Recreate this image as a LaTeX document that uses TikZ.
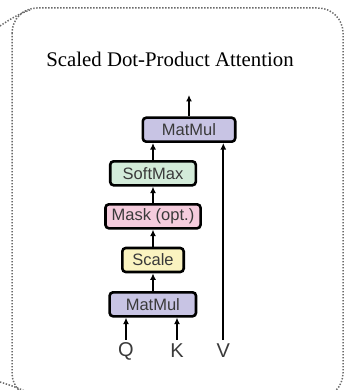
\documentclass[tikz,border=0pt]{standalone}
\usepackage{fontspec}
\setmainfont{Liberation Serif}
\newfontfamily\labelfont{Liberation Sans}
\usetikzlibrary{arrows.meta}

\definecolor{matmulfill}{HTML}{C8C4E4}
\definecolor{softfill}{HTML}{D3EBD9}
\definecolor{maskfill}{HTML}{F5CCDD}
\definecolor{scalefill}{HTML}{FAF3C0}
\definecolor{labelgray}{HTML}{3A3A3A}
\definecolor{framegray}{HTML}{6A6A6A}

\tikzset{
  opbox/.style={draw=black, line width=2.6pt, rounded corners=3.5pt,
    minimum height=24pt, inner sep=0pt,
    font=\labelfont\fontsize{16.5}{18}\selectfont, text=labelgray},
  flow/.style={line width=1.8pt, -{Latex[length=6.5pt,width=6pt]}},
  inlabel/.style={font=\labelfont\fontsize{20}{22}\selectfont, text=labelgray, inner sep=0pt},
  frame/.style={framegray, line width=1.5pt, dash pattern={on 1.4pt off 1.6pt}}
}

\begin{document}
\begin{tikzpicture}[x=1pt, y=-1pt]
  \useasboundingbox (0,0) rectangle (346,390);
  \clip (0,0) rectangle (346,390);

  % dotted outer frame and the stubs leaving it on the left
  \draw[frame, rounded corners=25pt] (12,8) rectangle (343,398);
  \draw[frame] (0,26) .. controls (9,20) and (18,14) .. (30,10);
  \draw[frame] (0,382) .. controls (10,385) and (18,388) .. (27,392);

  % title
  \node[anchor=base, font=\fontsize{20.8}{24}\selectfont, inner sep=0pt] (title) at (170,66.7)
    {Scaled Dot-Product Attention};

  % operation boxes
  \node[opbox, fill=matmulfill, minimum width=92.4pt] (mm2) at (189,129.7) {MatMul};
  \node[opbox, fill=softfill, minimum width=85.6pt] (soft) at (153,173.3) {SoftMax};
  \node[opbox, fill=maskfill, minimum width=95.1pt] (mask) at (153,216.3) {Mask (opt.)};
  \node[opbox, fill=scalefill, minimum width=61.4pt] (scale) at (153,260) {Scale};
  \node[opbox, fill=matmulfill, minimum width=86.4pt] (mm1) at (152.8,304.3) {MatMul};

  % inputs
  \node[inlabel] (q) at (126,351) {Q};
  \node[inlabel] (k) at (177,351) {K};
  \node[inlabel] (v) at (223.3,351) {V};

  \coordinate (qtop) at (126,339.5);
  \coordinate (ktop) at (177,339.5);
  \coordinate (vtop) at (223.3,340);
  \coordinate (out) at (189,95);

  % connectors
  \draw[flow] (qtop) -- (qtop |- mm1.south);
  \draw[flow] (ktop) -- (ktop |- mm1.south);
  \draw[flow] (mm1.north -| scale.south) -- (scale.south);
  \draw[flow] (scale.north) -- (mask.south);
  \draw[flow] (mask.north) -- (soft.south);
  \draw[flow] (soft.north) -- (soft.north |- mm2.south);
  \draw[flow] (vtop) -- (vtop |- mm2.south);
  \draw[flow] (mm2.north) -- (out);
\end{tikzpicture}
\end{document}
